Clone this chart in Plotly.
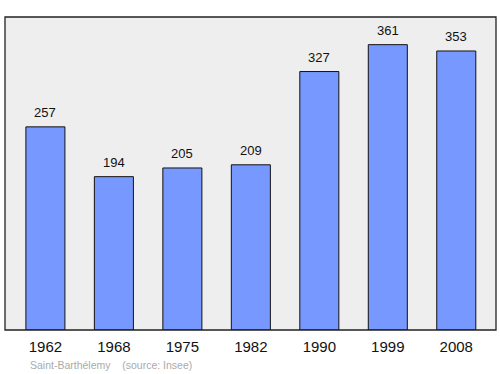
import plotly.graph_objects as go

years = ["1962", "1968", "1975", "1982", "1990", "1999", "2008"]
population = [257, 194, 205, 209, 327, 361, 353]

fig = go.Figure()
fig.add_trace(go.Bar(
    x=years, y=population, width=0.57,
    marker=dict(color="#7799ff", line=dict(color="#111111", width=1)),
    hoverinfo="skip",
))
for i, v in enumerate(population):
    fig.add_annotation(x=i, y=v, text=str(v), showarrow=False,
                       yanchor="bottom", yshift=5,
                       font=dict(family="Liberation Sans, Arial", size=13, color="#111111"))

fig.add_shape(type="rect", xref="paper", yref="paper", x0=0, y0=0, x1=1, y1=1,
              line=dict(color="#222222", width=1.3), layer="above")
fig.add_annotation(xref="paper", yref="paper", x=0.046, y=-0.087, xanchor="left", yanchor="top",
                   text="Saint-Barthélemy&nbsp;&nbsp;&nbsp;&nbsp;(source: Insee)", showarrow=False,
                   font=dict(family="Liberation Sans, Arial", size=10.5, color="#aaaaaa"))

fig.update_layout(
    width=500, height=374,
    margin=dict(l=5, r=4, t=17, b=44),
    paper_bgcolor="white", plot_bgcolor="#eeeeee",
    showlegend=False,
    xaxis=dict(type="category", range=[-0.59, 6.58], showgrid=False, zeroline=False, ticks="",
               ticklabelstandoff=6,
               tickfont=dict(family="Liberation Sans, Arial", size=15, color="#111111")),
    yaxis=dict(range=[0, 396], showgrid=False, zeroline=False, showticklabels=False, ticks=""),
)
fig.write_html("out.html")
